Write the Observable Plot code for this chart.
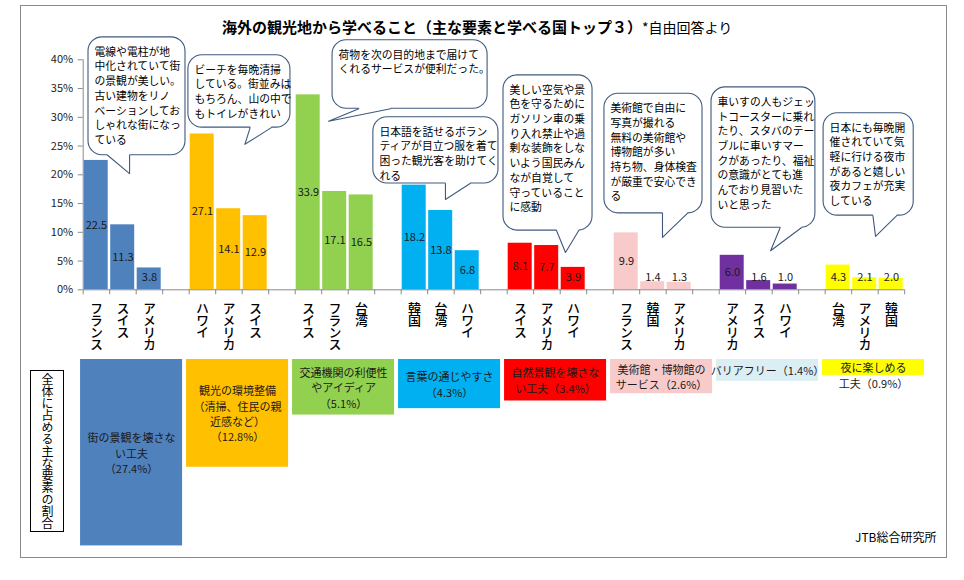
<!DOCTYPE html>
<html lang="ja">
<head>
<meta charset="utf-8">
<script src="https://cdn.jsdelivr.net/npm/d3@7"></script>
<script src="https://cdn.jsdelivr.net/npm/@observablehq/plot@0.6"></script>
<style>
  html, body { margin: 0; padding: 0; background: #fff; }
  body { width: 964px; height: 580px; position: relative; overflow: hidden;
         font-family: "Noto Sans CJK JP", "Noto Sans", sans-serif; color: #111; }
  #frame { position: absolute; left: 20px; top: 5px; width: 927px; height: 553px;
           border: 1px solid #8a8a8a; box-sizing: border-box; }
  #title { position: absolute; left: 222px; top: 15px; line-height: 22px; white-space: nowrap; color: #000; }
  #title b { font-size: 15px; font-weight: bold; }
  #title span { font-size: 14px; }
  #top-chart, #bottom-chart { position: absolute; left: 0; }
  #top-chart { top: 34px; }
  #bottom-chart { top: 355px; }
  #share-label { position: absolute; left: 30px; top: 370px; width: 34px; height: 162px;
                 border: 1px solid #000; box-sizing: border-box; writing-mode: vertical-rl;
                 text-orientation: upright; text-align: center; line-height: 32px; font-size: 12px;
                 white-space: nowrap; color: #000; }
  #credit { position: absolute; left: 855px; top: 529px; font-size: 12px; line-height: 16px; color: #000; }
  #top-chart svg g[aria-label^="y-axis"] line, #top-chart svg g[aria-label^="y-axis"] path,
  #top-chart svg g[aria-label^="x-axis"] line, #top-chart svg g[aria-label^="x-axis"] path { stroke: #8a8a8a; }
  #top-chart svg g[aria-label^="y-axis"] text { fill: #222; }
  /* country names run top-to-bottom under their bars */
  #top-chart svg g[aria-description="country names"] text {
    writing-mode: vertical-rl; text-orientation: upright; letter-spacing: -1px;
  }
</style>
</head>
<body>
<div id="frame"></div>
<div id="top-chart"></div>
<div id="bottom-chart"></div>
<div id="title"><b>海外の観光地から学べること（主な要素と学べる国トップ３）</b><span>*自由回答より</span></div>
<div id="share-label">全体に占める主な要素の割合</div>
<div id="credit">JTB総合研究所</div>
<script>
// Main factors learned from overseas destinations, with the top three countries for each
const factors = ["街の景観を壊さない工夫", "観光の環境整備", "交通機関の利便性やアイディア", "言葉の通じやすさ",
                 "自然景観を壊さない工夫", "美術館・博物館のサービス", "バリアフリー", "夜に楽しめる工夫"];
const countries = [
  ["フランス", "スイス", "アメリカ"],
  ["ハワイ", "アメリカ", "スイス"],
  ["スイス", "フランス", "台湾"],
  ["韓国", "台湾", "ハワイ"],
  ["スイス", "アメリカ", "ハワイ"],
  ["フランス", "韓国", "アメリカ"],
  ["アメリカ", "スイス", "ハワイ"],
  ["台湾", "アメリカ", "韓国"]
];
const countryValues = [
  [22.5, 11.3, 3.8],
  [27.1, 14.1, 12.9],
  [33.9, 17.1, 16.5],
  [18.2, 13.8, 6.8],
  [8.1, 7.7, 3.9],
  [9.9, 1.4, 1.3],
  [6.0, 1.6, 1.0],
  [4.3, 2.1, 2.0]
];
// Share of all answers taken by each factor (%)
const shares = [27.4, 12.8, 5.1, 4.3, 3.4, 2.6, 1.4, 0.9];
const shareLabels = [
  "街の景観を壊さな\nい工夫\n（{v}%）",
  "観光の環境整備\n（清掃、住民の親\n近感など）\n（{v}%）",
  "交通機関の利便性\nやアイディア\n（{v}%）",
  "言葉の通じやすさ\n（{v}%）",
  "自然景観を壊さな\nい工夫（{v}%）",
  "美術館・博物館の\nサービス（{v}%）",
  "バリアフリー（{v}%）",
  "夜に楽しめる\n工夫（{v}%）"
];
const comments = [
  ["電線や電柱が地", "中化されていて街", "の景観が美しい。", "古い建物をリノ", "ベーションしてお", "しゃれな街になっ", "ている"],
  ["ビーチを毎晩清掃", "している。街並みは", "もちろん、山の中で", "もトイレがきれい"],
  ["荷物を次の目的地まで届けて", "くれるサービスが便利だった。"],
  ["日本語を話せるボラン", "ティアが目立つ服を着て", "困った観光客を助けてく", "れる"],
  ["美しい空気や景", "色を守るために", "ガソリン車の乗", "り入れ禁止や過", "剰な装飾をしな", "いよう国民みん", "なが自覚して", "守っていること", "に感動"],
  ["美術館で自由に", "写真が撮れる", "無料の美術館や", "博物館が多い", "持ち物、身体検査", "が厳重で安心でき", "る"],
  ["車いすの人もジェッ", "トコースターに乗れ", "たり、スタバのテー", "ブルに車いすマー", "クがあったり、福祉", "の意識がとても進", "んでおり見習いた", "いと思った"],
  ["日本にも毎晩開", "催されていて気", "軽に行ける夜市", "があると嬉しい", "夜カフェが充実", "している"]
];
const yTicks = [0, 5, 10, 15, 20, 25, 30, 35, 40];

// Colours per factor
const groupColors = ["#4F81BD", "#FFC000", "#92D050", "#00B0F0", "#FF0000", "#F9CACA", "#7030A0", "#FFFF00"];
const shareColors = ["#4F81BD", "#FFC000", "#92D050", "#00B0F0", "#FF0000", "#F9CACA", "#DBEEF4", "#FFFF00"];

// Slot layout: each factor takes three bar slots plus one empty slot
const slotsPerGroup = 4;
const slotCount = factors.length * slotsPerGroup - 1;

const bars = countries.flatMap((names, g) => names.map((country, r) => ({
  g, r, country, value: countryValues[g][r], slot: g * slotsPerGroup + r, color: groupColors[g]
})));

// Speech-bubble placement, in slot units (x) and percent (y)
const bubbleLayout = [
  {x1: 0.20, x2: 3.86, y1: 43.9, y2: 23.4, baseL: 0.92, baseR: 1.75, tipX: 1.75, tipY: 20.2},
  {x1: 3.97, x2: 7.82, y1: 40.8, y2: 28.2, baseL: 6.30, baseR: 7.10, tipX: 6.10, tipY: 25.3},
  {x1: 9.41, x2: 15.26, y1: 43.4, y2: 31.5, baseL: 10.40, baseR: 11.60, tipX: 9.26, tipY: 29.3},
  {x1: 10.95, x2: 15.67, y1: 30.0, y2: 18.5, baseL: 13.67, baseR: 14.60, tipX: 13.67, tipY: 15.7},
  {x1: 15.86, x2: 19.22, y1: 37.3, y2: 10.3, baseL: 17.86, baseR: 18.70, tipX: 18.20, tipY: 6.5},
  {x1: 19.67, x2: 23.37, y1: 34.1, y2: 13.3, baseL: 21.86, baseR: 22.80, tipX: 21.86, tipY: 9.1},
  {x1: 23.71, x2: 27.63, y1: 35.2, y2: 10.8, baseL: 26.30, baseR: 27.10, tipX: 25.94, tipY: 6.8},
  {x1: 27.94, x2: 31.34, y1: 30.7, y2: 12.9, baseL: 29.80, baseR: 30.70, tipX: 29.90, tipY: 9.3}
];
const bubbles = bubbleLayout.map((b, i) => ({...b, id: i, text: comments[i].join("\n")}));
const seam = 0.35; // hides the bubble border where the pointer joins it
const tailFill = bubbles.flatMap(b => [
  {id: b.id, x: b.baseL, y: b.y2 + seam},
  {id: b.id, x: b.baseL, y: b.y2},
  {id: b.id, x: b.tipX, y: b.tipY},
  {id: b.id, x: b.baseR, y: b.y2},
  {id: b.id, x: b.baseR, y: b.y2 + seam}
]);
const tailStroke = bubbles.flatMap(b => [
  {id: b.id, x: b.baseL, y: b.y2},
  {id: b.id, x: b.tipX, y: b.tipY},
  {id: b.id, x: b.baseR, y: b.y2}
]);

const bubbleStroke = "#3F5A7D";
const fontFamily = '"Noto Sans CJK JP", "Noto Sans", sans-serif';
const geometry = {width: 964, marginLeft: 82.7, marginRight: 59.8};

const topChart = Plot.plot({
  ...geometry,
  height: 321,
  marginTop: 25.3,
  marginBottom: 65.7,
  x: {domain: [0, slotCount], ticks: d3.range(0, slotCount + 1), tickFormat: () => "", tickSize: 5, label: null},
  y: {domain: [0, 40], ticks: yTicks, tickFormat: d => d + "%", tickSize: 5, tickPadding: 5, label: null},
  color: {type: "identity"},
  style: {fontFamily, fontSize: "11px", background: "transparent", overflow: "visible"},
  marks: [
    Plot.rect(bars, {x1: d => d.slot, x2: d => d.slot + 1, y1: 0, y2: "value", fill: "color", insetLeft: 1, insetRight: 1.5}),
    Plot.text(bars, {x: d => d.slot + 0.5, y: d => Math.max(d.value / 2, 2.2), text: d => d.value.toFixed(1),
                     fontSize: 11, fill: "#1a1a1a"}),
    Plot.ruleY([0], {stroke: "#8a8a8a"}),
    Plot.ruleX([0], {y1: 0, y2: 40, stroke: "#8a8a8a"}),
    Plot.rect(bubbles, {x1: "x1", x2: "x2", y1: "y1", y2: "y2", rx: 14, fill: "white", stroke: bubbleStroke, strokeWidth: 1.1}),
    Plot.line(tailFill, {x: "x", y: "y", z: "id", fill: "white", stroke: "none"}),
    Plot.line(tailStroke, {x: "x", y: "y", z: "id", stroke: bubbleStroke, strokeWidth: 1.1}),
    Plot.text(bubbles, {x: "x1", y: "y1", text: "text", dx: 6, dy: 8, textAnchor: "start", lineAnchor: "top",
                        fontSize: 10.8, lineHeight: 1.36, fill: "#000"}),
    Plot.text(bars, {x: d => d.slot + 0.5, y: 0, text: "country", textAnchor: "start", lineAnchor: "top", dy: 3,
                     fontSize: 13, fontWeight: 500, fill: "#000", ariaDescription: "country names"})
  ]
});
document.getElementById("top-chart").append(topChart);

// Lower panel: one box per factor, its depth following the factor's share
const exponent = 0.72;
const shareMax = 30;
const shareRange = [4, 203];
const lineStep = 15.5;
const shareRows = shares.map((share, g) => {
  const label = shareLabels[g].replace("{v}", share.toFixed(1));
  const depth = (shareRange[1] - shareRange[0]) * Math.pow(share / shareMax, exponent);
  return {g, share, label, color: shareColors[g], fits: label.split("\n").length * lineStep <= depth + 2};
});

const bottomChart = Plot.plot({
  ...geometry,
  height: 205,
  marginTop: 4,
  marginBottom: 2,
  x: {domain: [0, slotCount], axis: null},
  y: {type: "pow", exponent, domain: [0, shareMax], range: shareRange, axis: null},
  color: {type: "identity"},
  style: {fontFamily, fontSize: "11px", background: "transparent", overflow: "visible"},
  marks: [
    Plot.rect(shareRows, {x1: d => d.g * slotsPerGroup - 0.1, x2: d => d.g * slotsPerGroup + 3.75, y1: 0, y2: "share", fill: "color"}),
    Plot.text(shareRows.filter(d => d.fits), {x: d => d.g * slotsPerGroup + 1.825, y: d => d.share * Math.pow(0.5, 1 / exponent),
                                              text: "label", lineAnchor: "middle", fontSize: 11, lineHeight: 1.4, fill: "#1a1a1a"}),
    Plot.text(shareRows.filter(d => !d.fits), {x: d => d.g * slotsPerGroup + 1.825, y: 0, dy: 2,
                                               text: "label", lineAnchor: "top", fontSize: 11, lineHeight: 1.4, fill: "#1a1a1a"})
  ]
});
document.getElementById("bottom-chart").append(bottomChart);
</script>
</body>
</html>
